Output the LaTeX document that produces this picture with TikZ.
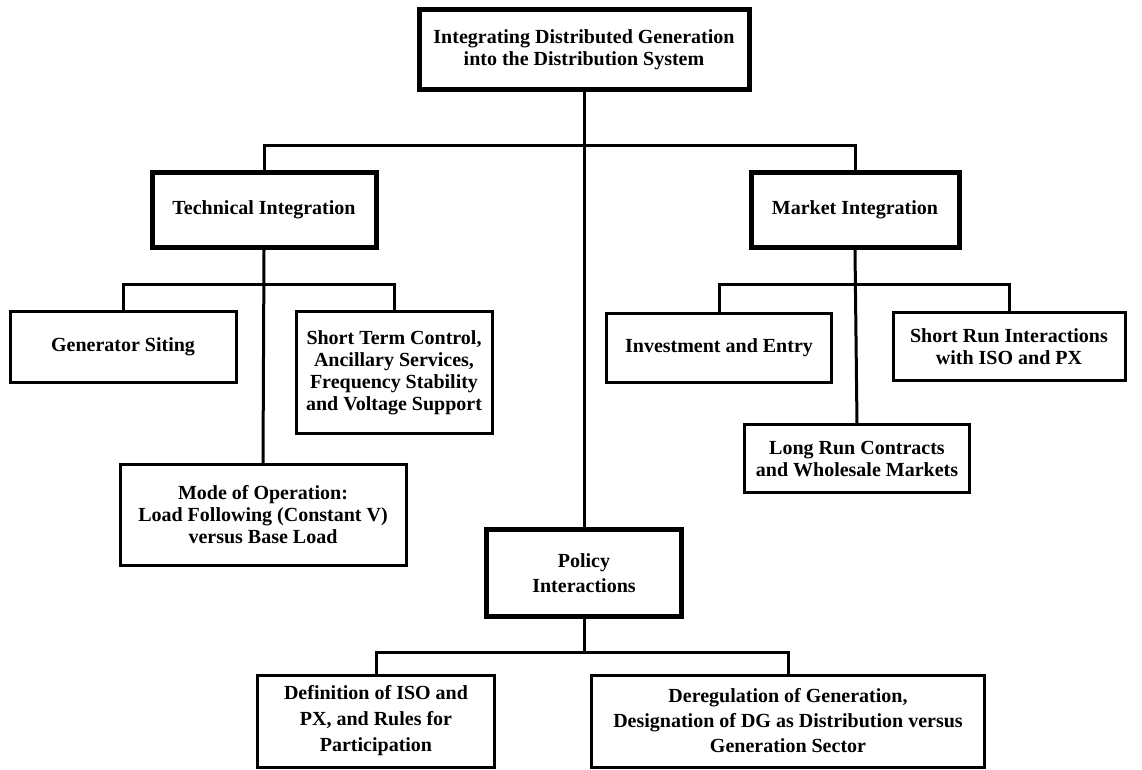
\documentclass[tikz,border=0pt]{standalone}
\usepackage{fontspec}
\setmainfont{Liberation Serif}
\usetikzlibrary{positioning}
\tikzset{
	obox/.style={
		draw,
		line width=1.5pt,
		align=center,
		inner sep=0pt,
		font=\bfseries\fontsize{10}{11}\selectfont
	},
	hbox/.style={obox, line width=2.5pt},
	link/.style={line width=1.5pt}
}

\begin{document}
\begin{tikzpicture}[x=0.5pt, y=-0.5pt]
		\useasboundingbox (0,0) rectangle (1142,770);
		\node[hbox, minimum width=165pt, minimum height=40pt] (dg) at (584,50) {Integrating Distributed Generation\\into the Distribution System};
		\node[hbox, minimum width=112pt, minimum height=37.5pt] (ti) at (264,210) {Technical Integration};
		\node[hbox, minimum width=104pt, minimum height=37.5pt] (mi) at (855,210) {Market Integration};
		\node[obox, minimum width=113pt, minimum height=35.5pt] (gen) at (123,347) {Generator Siting};
		\node[obox, minimum width=98pt, minimum height=61pt] (stc) at (394,373) {Short Term Control,\\Ancillary Services,\\Frequency Stability\\and Voltage Support};
		\node[obox, minimum width=143pt, minimum height=50pt] (mode) at (263,515) {Mode of Operation:\\Load Following (Constant V)\\versus Base Load};
		\node[obox, minimum width=112.5pt, minimum height=34.5pt] (inv) at (719,348) {Investment and Entry};
		\node[obox, minimum width=116pt, minimum height=34pt] (sri) at (1009,347) {Short Run Interactions\\with ISO and PX};
		\node[obox, minimum width=112.5pt, minimum height=34pt] (lrc) at (857,459) {Long Run Contracts\\and Wholesale Markets};
		\node[hbox, minimum width=97.5pt, minimum height=43pt, font=\bfseries\fontsize{10}{12.5}\selectfont] (pol) at (584,573) {Policy\\Interactions};
		\node[obox, minimum width=118.5pt, minimum height=46pt, font=\bfseries\fontsize{10}{13}\selectfont] (def) at (376,721) {Definition of ISO and\\PX, and Rules for\\Participation};
		\node[obox, minimum width=196.5pt, minimum height=46pt, font=\bfseries\fontsize{10}{12.5}\selectfont] (dereg) at (788,721) {Deregulation of Generation,\\Designation of DG as Distribution versus\\Generation Sector};
		% bus levels
		\coordinate (bus1) at (584,146);
		\coordinate (tbus) at (264,285);
		\coordinate (mbus) at (855,285);
		\coordinate (pbus) at (584,652);
		\draw[link] (ti.north) |- (bus1) -| (mi.north);
		\draw[link] (dg.south) -- (pol.north);
		\draw[link] (gen.north) |- (tbus) -| (stc.north);
		\draw[link] (ti.south) -- (mode.north);
		\draw[link] (inv.north) |- (mbus) -| (sri.north);
		\draw[link] (mi.south) -- (lrc.north);
		\draw[link] (def.north) |- (pbus) -| (dereg.north);
		\draw[link] (pol.south) -- (pbus);
	\end{tikzpicture}
\end{document}
